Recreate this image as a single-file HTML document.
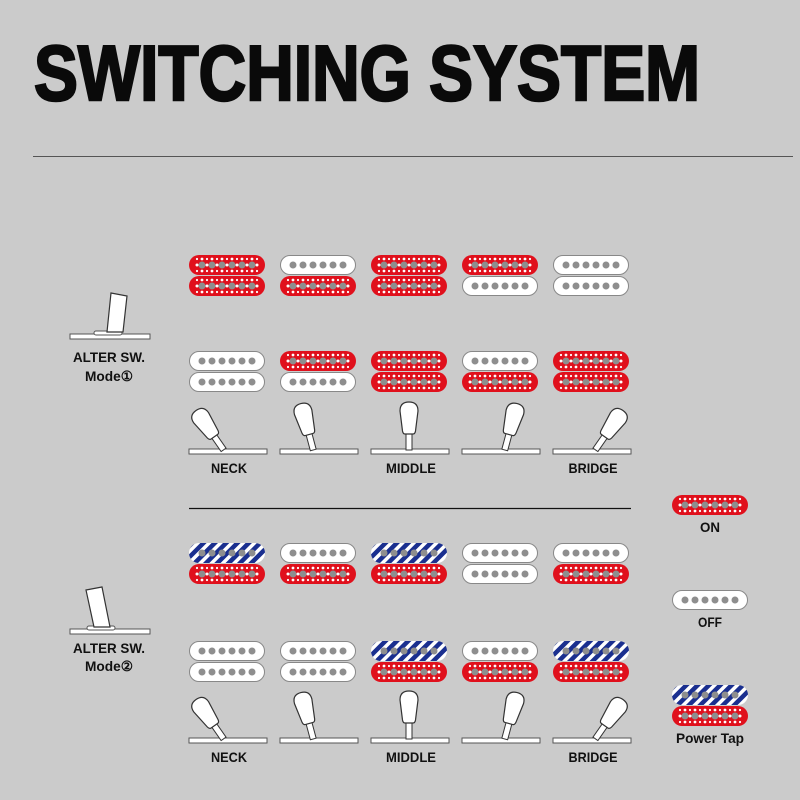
<!DOCTYPE html>
<html><head><meta charset="utf-8"><style>
html,body{margin:0;padding:0;background:#cbcbcb;}
svg{display:block}
text{font-family:"Liberation Sans",sans-serif;font-weight:bold;fill:#111}
</style></head><body>
<svg width="800" height="800" viewBox="0 0 800 800" xmlns="http://www.w3.org/2000/svg">
<defs>
 <pattern id="stripe" width="8" height="8" patternUnits="userSpaceOnUse" patternTransform="rotate(45)">
  <rect width="8" height="8" fill="#fff"/><rect width="4.5" height="8" fill="#1a2f8f"/>
 </pattern>
 <g id="dots">
  <circle cx="13" cy="10" r="3.5" fill="#8e8e8e"/><circle cx="23" cy="10" r="3.5" fill="#8e8e8e"/>
  <circle cx="33" cy="10" r="3.5" fill="#8e8e8e"/><circle cx="43" cy="10" r="3.5" fill="#8e8e8e"/>
  <circle cx="53" cy="10" r="3.5" fill="#8e8e8e"/><circle cx="63" cy="10" r="3.5" fill="#8e8e8e"/>
 </g>
 <g id="white"><rect x="0.5" y="0.5" width="75" height="19" rx="9.5" fill="#fff" stroke="#888" stroke-width="1"/><use href="#dots"/></g>
 <g id="red"><rect x="0" y="0" width="76" height="20" rx="10" fill="#e0101c"/><use href="#dots"/>
  <g fill="#fff">
   <circle cx="8" cy="10" r="1.5"/><circle cx="18" cy="10" r="1.5"/><circle cx="28" cy="10" r="1.5"/><circle cx="38" cy="10" r="1.5"/><circle cx="48" cy="10" r="1.5"/><circle cx="58" cy="10" r="1.5"/><circle cx="68" cy="10" r="1.5"/>
   <circle cx="13" cy="4" r="1.4"/><circle cx="23" cy="4" r="1.4"/><circle cx="33" cy="4" r="1.4"/><circle cx="43" cy="4" r="1.4"/><circle cx="53" cy="4" r="1.4"/><circle cx="63" cy="4" r="1.4"/>
   <circle cx="13" cy="16" r="1.4"/><circle cx="23" cy="16" r="1.4"/><circle cx="33" cy="16" r="1.4"/><circle cx="43" cy="16" r="1.4"/><circle cx="53" cy="16" r="1.4"/><circle cx="63" cy="16" r="1.4"/>
   <circle cx="8" cy="4" r="1.1"/><circle cx="18" cy="4" r="1.1"/><circle cx="28" cy="4" r="1.1"/><circle cx="38" cy="4" r="1.1"/><circle cx="48" cy="4" r="1.1"/><circle cx="58" cy="4" r="1.1"/><circle cx="68" cy="4" r="1.1"/>
   <circle cx="8" cy="16" r="1.1"/><circle cx="18" cy="16" r="1.1"/><circle cx="28" cy="16" r="1.1"/><circle cx="38" cy="16" r="1.1"/><circle cx="48" cy="16" r="1.1"/><circle cx="58" cy="16" r="1.1"/><circle cx="68" cy="16" r="1.1"/>
  </g></g>
 <g id="blue"><rect width="76" height="20" rx="10" fill="url(#stripe)"/><use href="#dots"/></g>
 <g id="lever">
  <rect x="-3" y="-17" width="6" height="18" fill="#fff" stroke="#333" stroke-width="1"/>
  <path d="M-4,-15 L4,-15 Q6,-15 6.5,-18 L9,-38 Q9,-47 0,-47 Q-9,-47 -9,-38 L-6.5,-18 Q-6,-15 -4,-15 Z" fill="#fff" stroke="#333" stroke-width="1.2"/>
 </g>
</defs>

<text x="34" y="100" font-size="78" textLength="666" lengthAdjust="spacingAndGlyphs" style="fill:#0a0a0a;stroke:#0a0a0a;stroke-width:2.5">SWITCHING SYSTEM</text>
<line x1="33" y1="156.5" x2="793" y2="156.5" stroke="#555" stroke-width="1"/>

<use href="#red" x="189" y="255"/><use href="#red" x="189" y="276"/>
<use href="#white" x="280" y="255"/><use href="#red" x="280" y="276"/>
<use href="#red" x="371" y="255"/><use href="#red" x="371" y="276"/>
<use href="#red" x="462" y="255"/><use href="#white" x="462" y="276"/>
<use href="#white" x="553" y="255"/><use href="#white" x="553" y="276"/>

<use href="#white" x="189" y="351"/><use href="#white" x="189" y="372"/>
<use href="#red" x="280" y="351"/><use href="#white" x="280" y="372"/>
<use href="#red" x="371" y="351"/><use href="#red" x="371" y="372"/>
<use href="#white" x="462" y="351"/><use href="#red" x="462" y="372"/>
<use href="#red" x="553" y="351"/><use href="#red" x="553" y="372"/>

<g fill="#fff" stroke="#555" stroke-width="1">
<rect x="189" y="449" width="78" height="5"/><rect x="280" y="449" width="78" height="5"/><rect x="371" y="449" width="78" height="5"/><rect x="462" y="449" width="78" height="5"/><rect x="553" y="449" width="78" height="5"/>
</g>
<use href="#lever" transform="translate(223,449) rotate(-35)"/>
<use href="#lever" transform="translate(313,449) rotate(-15)"/>
<use href="#lever" transform="translate(409,449)"/>
<use href="#lever" transform="translate(505,449) rotate(15)"/>
<use href="#lever" transform="translate(596,449) rotate(35)"/>
<text x="229" y="473" font-size="14" text-anchor="middle" textLength="36" lengthAdjust="spacingAndGlyphs">NECK</text>
<text x="411" y="473" font-size="14" text-anchor="middle" textLength="50" lengthAdjust="spacingAndGlyphs">MIDDLE</text>
<text x="593" y="473" font-size="14" text-anchor="middle" textLength="49" lengthAdjust="spacingAndGlyphs">BRIDGE</text>

<line x1="189" y1="508.5" x2="631" y2="508.5" stroke="#111" stroke-width="1.3"/>

<use href="#blue" x="189" y="543"/><use href="#red" x="189" y="564"/>
<use href="#white" x="280" y="543"/><use href="#red" x="280" y="564"/>
<use href="#blue" x="371" y="543"/><use href="#red" x="371" y="564"/>
<use href="#white" x="462" y="543"/><use href="#white" x="462" y="564"/>
<use href="#white" x="553" y="543"/><use href="#red" x="553" y="564"/>

<use href="#white" x="189" y="641"/><use href="#white" x="189" y="662"/>
<use href="#white" x="280" y="641"/><use href="#white" x="280" y="662"/>
<use href="#blue" x="371" y="641"/><use href="#red" x="371" y="662"/>
<use href="#white" x="462" y="641"/><use href="#red" x="462" y="662"/>
<use href="#blue" x="553" y="641"/><use href="#red" x="553" y="662"/>

<g fill="#fff" stroke="#555" stroke-width="1">
<rect x="189" y="738" width="78" height="5"/><rect x="280" y="738" width="78" height="5"/><rect x="371" y="738" width="78" height="5"/><rect x="462" y="738" width="78" height="5"/><rect x="553" y="738" width="78" height="5"/>
</g>
<use href="#lever" transform="translate(223,738) rotate(-35)"/>
<use href="#lever" transform="translate(313,738) rotate(-15)"/>
<use href="#lever" transform="translate(409,738)"/>
<use href="#lever" transform="translate(505,738) rotate(15)"/>
<use href="#lever" transform="translate(596,738) rotate(35)"/>
<text x="229" y="762" font-size="14" text-anchor="middle" textLength="36" lengthAdjust="spacingAndGlyphs">NECK</text>
<text x="411" y="762" font-size="14" text-anchor="middle" textLength="50" lengthAdjust="spacingAndGlyphs">MIDDLE</text>
<text x="593" y="762" font-size="14" text-anchor="middle" textLength="49" lengthAdjust="spacingAndGlyphs">BRIDGE</text>

<rect x="70" y="334" width="80" height="5" fill="#fff" stroke="#555"/>
<rect x="94" y="331" width="28" height="4" rx="2" fill="#fff" stroke="#555"/>
<path d="M111,293 L127,296 L123,332 L107,332 Z" fill="#fff" stroke="#333" stroke-width="1.2"/>
<text x="109" y="362" font-size="14" text-anchor="middle" textLength="72" lengthAdjust="spacingAndGlyphs">ALTER SW.</text>
<text x="109" y="381" font-size="14" text-anchor="middle" textLength="48" lengthAdjust="spacingAndGlyphs">Mode①</text>

<rect x="70" y="629" width="80" height="5" fill="#fff" stroke="#555"/>
<rect x="87" y="626" width="28" height="4" rx="2" fill="#fff" stroke="#555"/>
<path d="M86,590 L102,587 L110,627 L94,627 Z" fill="#fff" stroke="#333" stroke-width="1.2"/>
<text x="109" y="653" font-size="14" text-anchor="middle" textLength="72" lengthAdjust="spacingAndGlyphs">ALTER SW.</text>
<text x="109" y="671" font-size="14" text-anchor="middle" textLength="48" lengthAdjust="spacingAndGlyphs">Mode②</text>

<use href="#red" x="672" y="495"/>
<text x="710" y="532" font-size="14" text-anchor="middle" textLength="20" lengthAdjust="spacingAndGlyphs">ON</text>
<use href="#white" x="672" y="590"/>
<text x="710" y="627" font-size="14" text-anchor="middle" textLength="24" lengthAdjust="spacingAndGlyphs">OFF</text>
<use href="#blue" x="672" y="685"/><use href="#red" x="672" y="706"/>
<text x="710" y="743" font-size="14" text-anchor="middle" textLength="68" lengthAdjust="spacingAndGlyphs">Power Tap</text>
</svg>
</body></html>
